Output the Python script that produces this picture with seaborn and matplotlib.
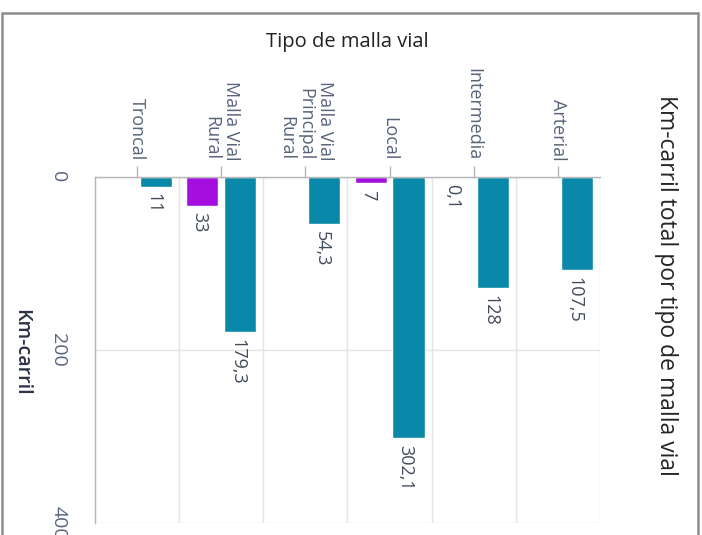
import numpy as np
import pandas as pd
import matplotlib
matplotlib.use("Agg")
from matplotlib import pyplot as plt
from matplotlib.patches import Rectangle
import seaborn as sns

# datos (grafico rotado 90 grados)
categorias = ["Troncal", "Malla Vial\nRural", "Malla Vial\nPrincipal\nRural",
              "Local", "Intermedia", "Arterial"]
serie_morada = [np.nan, 33, np.nan, 7, 0.1, np.nan]
serie_azul = [11, 179.3, 54.3, 302.1, 128, 107.5]
series = ["Serie A", "Serie B"]
colores = ["#a40fe0", "#0a88a9"]
ticks_valor = [0, 200, 400]

df = pd.DataFrame({
    "tipo": categorias * 2,
    "serie": [series[0]] * len(categorias) + [series[1]] * len(categorias),
    "km": serie_morada + serie_azul,
})
df = df.dropna()

sns.set_style("white")
plt.rcParams["font.family"] = ["Open Sans", "DejaVu Sans"]

fig = plt.figure(figsize=(7.02, 5.35), dpi=100)
ax = fig.add_axes([95 / 702, 1 - 523 / 535, 505 / 702, 346 / 535])

sns.barplot(data=df, x="tipo", y="km", hue="serie", order=categorias,
            hue_order=series, palette=colores, width=0.9, gap=0.15,
            legend=False, ax=ax, saturation=1)

ax.set_xlim(-0.5, len(categorias) - 0.5)
ax.set_ylim(400, 0)
ax.set_yticks(ticks_valor)
ax.set_yticklabels([str(t) for t in ticks_valor], rotation=270, va="center",
                   fontsize=14, color="#56657a")
ax.xaxis.tick_top()
ax.set_xticks(range(len(categorias)))
ax.set_xticklabels(categorias, rotation=270, ha="center", va="bottom",
                   multialignment="right", fontsize=13, color="#56657a",
                   linespacing=1.1)
ax.set_xticks(np.arange(-0.5, len(categorias)), minor=True)
ax.tick_params(axis="x", which="major", length=8, width=1, color="#b5b5b5", pad=4)
ax.tick_params(axis="x", which="minor", length=0)
ax.tick_params(axis="y", length=9, width=1, color="#b5b5b5", pad=11)
ax.grid(True, axis="x", which="minor", color="#e4e4e4", lw=1)
ax.grid(True, axis="y", which="major", color="#e4e4e4", lw=1)
ax.set_axisbelow(True)
ax.set_xlabel("")
ax.set_ylabel("")
for lado in ["right", "bottom"]:
    ax.spines[lado].set_visible(False)
for lado in ["left", "top"]:
    ax.spines[lado].set_color("#b5b5b5")
    ax.spines[lado].set_linewidth(1)

# etiquetas de valor al final de cada barra
for cont in ax.containers:
    for barra in cont:
        v = barra.get_height()
        if np.isnan(v):
            continue
        txt = f"{v:g}".replace(".", ",")
        ax.annotate(txt, (barra.get_x() + barra.get_width() / 2, v),
                    xytext=(-2, -5), textcoords="offset points",
                    rotation=270, ha="center", va="top",
                    fontsize=13, color="#404b5c")

fig.text(347 / 702, 1 - 42 / 535, "Tipo de malla vial", ha="center",
         va="center", fontsize=14.5, color="#222222")
fig.text(21 / 702, 1 - 352 / 535, "Km-carril", rotation=270, ha="center",
         va="center", fontsize=14, color="#2b3445", fontweight="semibold")
fig.text(666 / 702, 1 - 285 / 535, "Km-carril total por tipo de malla vial",
         rotation=270, ha="center", va="center", fontsize=16.5, color="#252525")

# marco gris de la tarjeta
fig.patches.append(Rectangle((2 / 702, -0.05), 696 / 702, 1.05 - 13 / 535,
                             transform=fig.transFigure, fill=False,
                             edgecolor="#8c8c8c", lw=1.8, clip_on=False))

fig.savefig("out.png", dpi=100)
